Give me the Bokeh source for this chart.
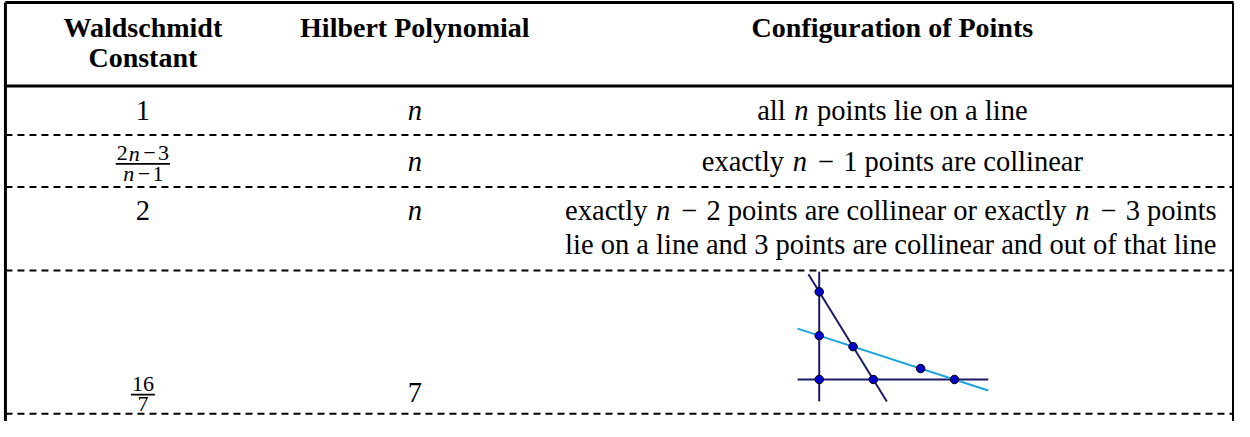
from bokeh.plotting import figure
from bokeh.models import Range1d
from bokeh.core.properties import value
from bokeh.embed import file_html
from bokeh.resources import INLINE

# ---------------- table content ----------------
header_col1 = ["Waldschmidt", "Constant"]
header_col2 = ["Hilbert Polynomial"]
header_col3 = ["Configuration of Points"]

# tokens: (text, kind)  kind: r roman, sp space, mi math italic, md math digit,
# bin binary minus (text style), ops minus in script style
waldschmidt_constants = [
    [("1", "md")],
    ("frac", [("2", "md"), ("n", "mi"), ("−", "ops"), ("3", "md")],
             [("n", "mi"), ("−", "ops"), ("1", "md")]),
    [("2", "md")],
    ("frac", [("16", "md")], [("7", "md")]),
]
hilbert_polynomials = [
    [("n", "mi")],
    [("n", "mi")],
    [("n", "mi")],
    [("7", "md")],
]
configurations = [
    [[("all", "r"), ("", "sp"), ("n", "mi"), ("", "sp"), ("points lie on a line", "r")]],
    [[("exactly", "r"), ("", "sp"), ("n", "mi"), ("−", "bin"), ("1", "md"), ("", "sp"),
      ("points are collinear", "r")]],
    [[("exactly", "r"), ("", "sp"), ("n", "mi"), ("−", "bin"), ("2", "md"), ("", "sp"),
      ("points are collinear or exactly", "r"), ("", "sp"), ("n", "mi"), ("−", "bin"),
      ("3", "md"), ("", "sp"), ("points", "r")],
     [("lie on a line and 3 points are collinear and out of that line", "r")]],
    None,
]

# configuration of 7 points (last row), in local units
pt_x = [0, 0, 0, 0.75, 1.2, 2.25, 3.0]
pt_y = [2, 1, 0, 0.75, 0, 0.25, 0]
dark_lines_x = [[0, 0], [-0.48, 3.75], [-0.24, 1.5]]
dark_lines_y = [[2.46, -0.5], [0, 0], [2.4, -0.5]]
cyan_line_x = [-0.48, 3.75]
cyan_line_y = [1.16, -0.25]

# ---------------- layout (reference pixel space) ----------------
XR = (2, 1250)
YR = (441, 3)
PW, PH = 1234, 421
SX = PW / (XR[1] - XR[0])
SY = PH / (YR[0] - YR[1])
BASE_SHIFT = 0.35   # em; compensates where the renderer puts the text baseline

X_LEFT, X_RIGHT = 7, 1249
Y_TOP, Y_HEAD = 5, 92
dashed_rows = [143, 197, 284, 433]
col_centers = [146, 421, 904]
col3_left = 573
head_baselines = [41, 72]
row_baselines = [128, 181, 232, 421]
line_gap = 35
FS_HEAD = 28
FS = 28.5
FS_FRAC = 22
FRAC_NUM, FRAC_BAR, FRAC_DEN = -11, -8, 10
FIG_ORIGIN = (830, 397.3)
FIG_UNIT = 45.6

W_R = {' ': .25, 'a': .444, 'b': .5, 'c': .444, 'd': .5, 'e': .444, 'f': .333, 'g': .5,
       'h': .5, 'i': .278, 'k': .5, 'l': .278, 'm': .778, 'n': .5, 'o': .5, 'p': .5,
       'r': .333, 's': .389, 't': .278, 'u': .5, 'x': .5, 'y': .5}


def tok_width(t, k, size):
    if k == 'sp':
        return 0.25 * size
    if k == 'r':
        return sum(W_R.get(c, 0.5) for c in t) * size
    if k == 'mi':
        return 0.6 * size * len(t)
    if k == 'md':
        return 0.5 * size * len(t)
    if k == 'bin':
        return 1.222 * size
    if k == 'ops':
        return 0.778 * size
    return 0.5 * size


glyphs = {}


def add(style, size, align, x, y, t):
    d = glyphs.setdefault((style, size, align), {"x": [], "y": [], "text": []})
    d["x"].append(x)
    d["y"].append(y - BASE_SHIFT * size / SY)
    d["text"].append(t)


def place(tokens, x, y, size, align="center"):
    widths = [tok_width(t, k, size) / SX for t, k in tokens]
    total = sum(widths)
    cur = x - total / 2 if align == "center" else x
    for (t, k), w in zip(tokens, widths):
        if k == 'sp':
            cur += w
            continue
        if k == 'r':
            add("normal", size, "left", cur, y, t)
        elif k == 'mi':
            add("italic", size, "center", cur + w / 2, y, t)
        else:
            add("normal", size, "center", cur + w / 2, y, t)
        cur += w
    return total


p = figure(width=PW, height=PH, output_backend="svg", toolbar_location=None,
           x_range=Range1d(*XR), y_range=Range1d(*YR),
           x_axis_type=None, y_axis_type=None, min_border=0)
p.grid.visible = False
p.outline_line_color = None
p.background_fill_color = "white"

# borders and header rule
p.segment(x0=[X_LEFT, X_LEFT, X_LEFT, X_RIGHT], y0=[Y_TOP, Y_HEAD, Y_TOP, Y_TOP],
          x1=[X_RIGHT, X_RIGHT, X_LEFT, X_RIGHT], y1=[Y_TOP, Y_HEAD, YR[0], YR[0]],
          line_color="black", line_width=3)
# dashed row separators
p.segment(x0=[X_LEFT] * len(dashed_rows), y0=dashed_rows,
          x1=[X_RIGHT] * len(dashed_rows), y1=dashed_rows,
          line_color="black", line_width=2, line_dash="7 5")

# headers
for i, t in enumerate(header_col1):
    add("bold", FS_HEAD, "center", col_centers[0], head_baselines[i], t)
add("bold", FS_HEAD, "center", col_centers[1], head_baselines[0], header_col2[0])
add("bold", FS_HEAD, "center", col_centers[2], head_baselines[0], header_col3[0])

# body rows
bars = {"x0": [], "x1": [], "y": []}
for r in range(4):
    yb = row_baselines[r]
    wc = waldschmidt_constants[r]
    if isinstance(wc, tuple):
        _, num, den = wc
        wn = place(num, col_centers[0], yb + FRAC_NUM, FS_FRAC)
        wd = place(den, col_centers[0], yb + FRAC_DEN, FS_FRAC)
        half = max(wn, wd) / 2 + 1
        bars["x0"].append(col_centers[0] - half)
        bars["x1"].append(col_centers[0] + half)
        bars["y"].append(yb + FRAC_BAR)
    else:
        place(wc, col_centers[0], yb, FS)
    place(hilbert_polynomials[r], col_centers[1], yb, FS)
    cfg = configurations[r]
    if cfg is None:
        continue
    if len(cfg) == 1:
        place(cfg[0], col_centers[2], yb, FS)
    else:
        for j, line in enumerate(cfg):
            place(line, col3_left, yb + j * line_gap, FS, align="left")

p.segment(x0=bars["x0"], y0=bars["y"], x1=bars["x1"], y1=bars["y"],
          line_color="black", line_width=1.6)

# configuration figure
ox, oy = FIG_ORIGIN
for lx, ly in zip(dark_lines_x, dark_lines_y):
    p.line([ox + FIG_UNIT * v for v in lx], [oy - FIG_UNIT * v for v in ly],
           line_color="#1b1b68", line_width=2)
p.line([ox + FIG_UNIT * v for v in cyan_line_x], [oy - FIG_UNIT * v for v in cyan_line_y],
       line_color="#1aa3dc", line_width=2)
p.scatter([ox + FIG_UNIT * v for v in pt_x], [oy - FIG_UNIT * v for v in pt_y],
          size=8.5, fill_color="#0000cd", line_color="black", line_width=1)

for (style, size, align), d in glyphs.items():
    p.text(x=d["x"], y=d["y"], text=d["text"], text_font=value("Liberation Serif"),
           text_font_style=style, text_font_size=f"{size}px", text_align=align,
           text_baseline="alphabetic", text_color="black")

open("out.html", "w").write(file_html(p, INLINE))
